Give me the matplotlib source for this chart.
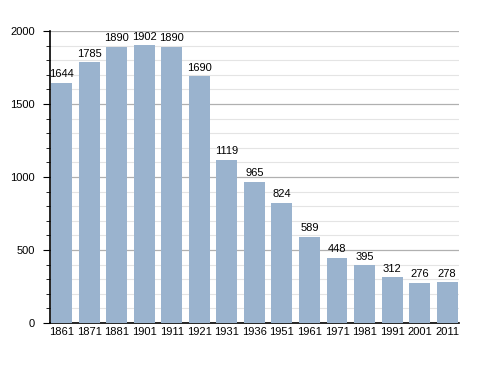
import numpy as np
import matplotlib.pyplot as plt

years = ['1861', '1871', '1881', '1901', '1911', '1921', '1931', '1936',
         '1951', '1961', '1971', '1981', '1991', '2001', '2011']
population = [1644, 1785, 1890, 1902, 1890, 1690, 1119, 965,
              824, 589, 448, 395, 312, 276, 278]

plt.rcParams['font.family'] = ['Liberation Sans', 'DejaVu Sans']

fig = plt.figure(figsize=(4.88, 3.73), dpi=100)
ax = fig.add_axes([0.1025, 0.134, 0.838, 0.783])

x = np.arange(len(years))
ax.bar(x, population, width=0.76, color='#9ab3ce', zorder=3)

for xi, v in zip(x, population):
    ax.text(xi, v + 25, str(v), ha='center', va='bottom', fontsize=8, zorder=4)

ax.set_xlim(-0.42, len(years) - 0.57)
ax.set_ylim(0, 2000)
ax.set_yticks(np.arange(0, 2001, 500))
ax.set_yticks(np.arange(0, 2001, 100), minor=True)
ax.grid(axis='y', which='major', color='#b0b0b0', linewidth=0.9, zorder=0)
ax.grid(axis='y', which='minor', color='#e4e4e4', linewidth=0.8, zorder=0)

ax.set_xticks(x)
ax.set_xticklabels(years)
ax.tick_params(axis='x', length=0, labelsize=8, pad=3)
ax.tick_params(axis='y', which='major', length=5, labelsize=8, pad=6)
ax.tick_params(axis='y', which='minor', length=3)

for side in ['top', 'right']:
    ax.spines[side].set_visible(False)
ax.spines['left'].set_linewidth(1.2)
ax.spines['bottom'].set_linewidth(1.2)

fig.savefig('out.png', dpi=100)
